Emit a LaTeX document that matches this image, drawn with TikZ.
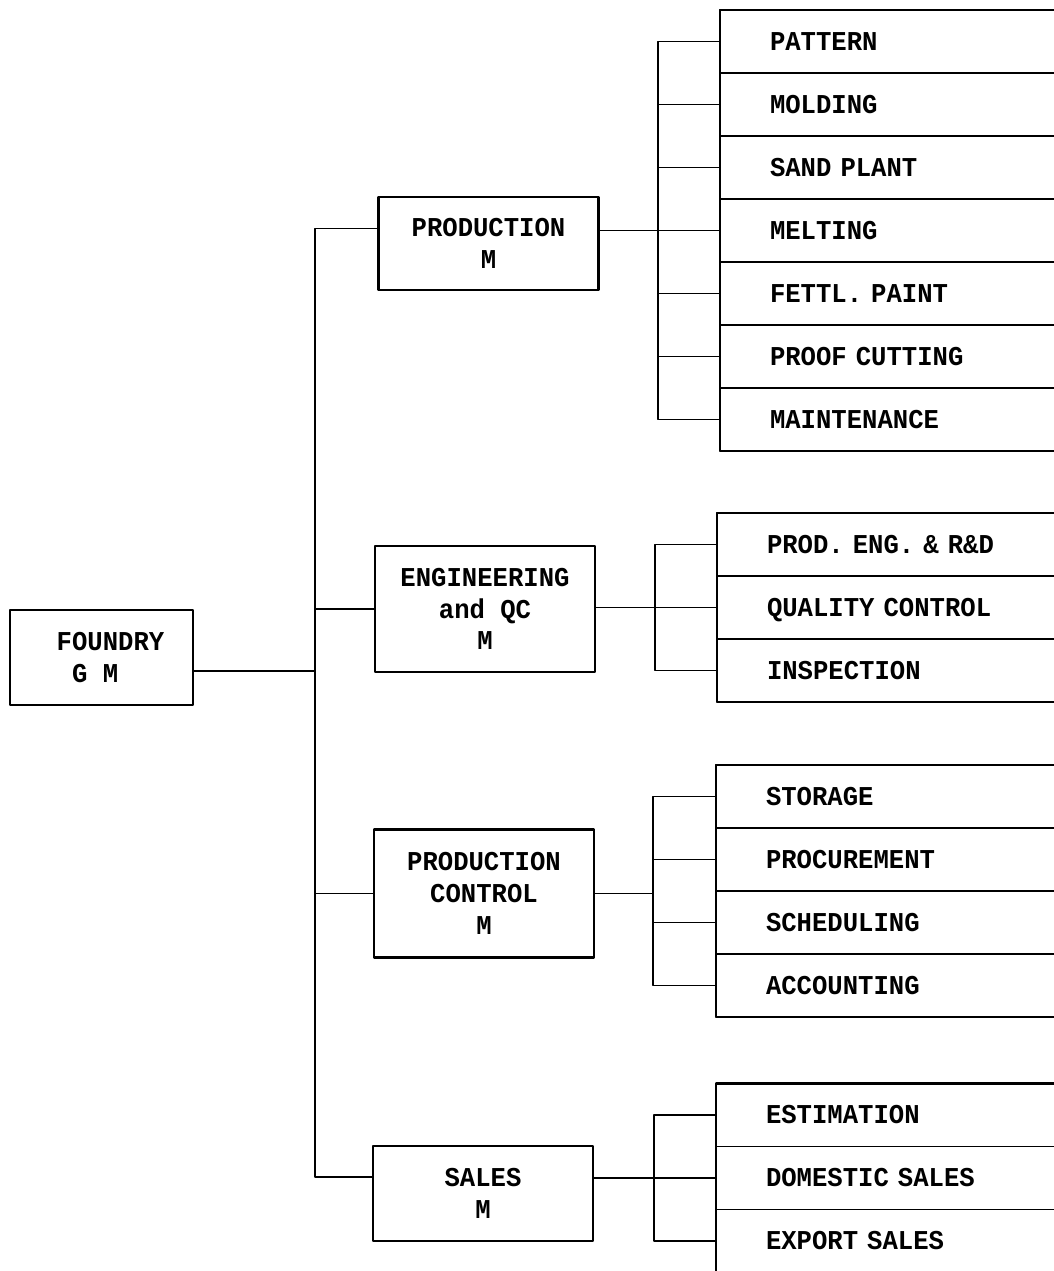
\documentclass[tikz,border=0pt]{standalone}
\usepackage{fontspec}
\newfontfamily\chartfont{Liberation Mono}[FakeStretch=0.94]
\usetikzlibrary{positioning}

% monospaced font with a space as wide as a letter
\newcommand\chartsetup{%
    \chartfont\bfseries\fontsize{15.5pt}{18pt}\selectfont
    \fontdimen2\font=\fontcharwd\font`X
    \fontdimen3\font=0pt
    \fontdimen4\font=0pt
    \fontdimen7\font=0pt
    \frenchspacing}

\begin{document}
\begin{tikzpicture}[line cap=round, line join=round]

% --- Global TikZ Styles for Consistency ---
\tikzset{
    chart/.style={
        font=\chartsetup
    },
    mgrbox/.style={
        chart,
        draw=black,
        line width=1.3pt,
        align=center,
        minimum width=4.4cm,
        inner sep=0pt
    },
    unitrow/.style={
        chart,
        draw=black,
        line width=0.6pt,
        align=left,
        text width=8cm,
        inner xsep=1cm,
        inner ysep=0pt,
        outer sep=0pt,
        minimum height=1.26cm,
        text height=10.2pt,
        text depth=0pt
    },
    unitframe/.style={
        draw=black,
        line width=1.3pt
    },
    link/.style={
        draw=black,
        line width=0.9pt
    }
}

% --- Page frame (right side of the unit boxes is cut off) ---
\useasboundingbox (0,0) rectangle (21.08,-25.42);
\clip (0,0) rectangle (21.08,-25.42);

% =========================================================================
% --- General manager and department managers ---
% =========================================================================
\node[mgrbox, minimum width=3.66cm, minimum height=1.9cm, align=left] (fdy) at (2.03,-13.15)
    {\hspace*{0.36cm}FOUNDRY\\\hspace*{0.36cm}~G M};

\node[mgrbox, minimum height=1.86cm] (prod)  at (9.77,-4.87)  {PRODUCTION\\M};
\node[mgrbox, minimum height=2.52cm] (eng)   at (9.70,-12.18) {ENGINEERING\\and QC\\M};
\node[mgrbox, minimum height=2.56cm] (pctl)  at (9.68,-17.87) {PRODUCTION\\CONTROL\\M};
\node[mgrbox, minimum height=1.9cm]  (sales) at (9.66,-23.87) {SALES\\M};

% --- Trunk ---
\coordinate (trunk) at (6.3,0);
\coordinate (fdyJ) at ([yshift=-0.27cm]fdy.east);
\coordinate (prodJ) at ([yshift=0.3cm]prod.west);
\coordinate (salesJ) at ([yshift=0.33cm]sales.west);

\draw[link] (fdyJ) -- (trunk |- fdyJ);
\draw[link] (prodJ) -- (trunk |- prodJ) -- (trunk |- salesJ) -- (salesJ);
\draw[link] (eng.west) -- (trunk |- eng.west);
\draw[link] (pctl.west) -- (trunk |- pctl.west);

% =========================================================================
% --- Production units ---
% =========================================================================
\node[unitrow, anchor=north west] (p1) at (14.4,-0.2) {PATTERN};
\node[unitrow, below=0pt of p1] (p2) {MOLDING};
\node[unitrow, below=0pt of p2] (p3) {SAND PLANT};
\node[unitrow, below=0pt of p3] (p4) {MELTING};
\node[unitrow, below=0pt of p4] (p5) {FETTL. PAINT};
\node[unitrow, below=0pt of p5] (p6) {PROOF CUTTING};
\node[unitrow, below=0pt of p6] (p7) {MAINTENANCE};
\draw[unitframe] (p1.north west) rectangle (p7.south east);

\coordinate (pbr) at (13.16,0);
\draw[link] (prod.east |- p4.west) -- (p4.west);
\draw[link] (p1.west) -- (pbr |- p1.west) -- (pbr |- p7.west) -- (p7.west);
\foreach \r in {p2,p3,p5,p6}
    \draw[link] (pbr |- \r.west) -- (\r.west);

% =========================================================================
% --- Engineering and QC units ---
% =========================================================================
\node[unitrow, anchor=north west] (e1) at (14.34,-10.26) {PROD. ENG. \& R\&D};
\node[unitrow, below=0pt of e1] (e2) {QUALITY CONTROL};
\node[unitrow, below=0pt of e2] (e3) {INSPECTION};
\draw[unitframe] (e1.north west) rectangle (e3.south east);

\coordinate (ebr) at (13.1,0);
\draw[link] (eng.east |- e2.west) -- (e2.west);
\draw[link] (e1.west) -- (ebr |- e1.west) -- (ebr |- e3.west) -- (e3.west);

% =========================================================================
% --- Production control units ---
% =========================================================================
\node[unitrow, anchor=north west] (c1) at (14.32,-15.3) {STORAGE};
\node[unitrow, below=0pt of c1] (c2) {PROCUREMENT};
\node[unitrow, below=0pt of c2] (c3) {SCHEDULING};
\node[unitrow, below=0pt of c3] (c4) {ACCOUNTING};
\draw[unitframe] (c1.north west) rectangle (c4.south east);

\coordinate (cbr) at (13.06,0);
\draw[link] (pctl.east) -- (cbr |- pctl.east);
\draw[link] (c1.west) -- (cbr |- c1.west) -- (cbr |- c4.west) -- (c4.west);
\foreach \r in {c2,c3}
    \draw[link] (cbr |- \r.west) -- (\r.west);

% =========================================================================
% --- Sales units ---
% =========================================================================
\node[unitrow, anchor=north west] (s1) at (14.32,-21.67) {ESTIMATION};
\node[unitrow, below=0pt of s1] (s2) {DOMESTIC SALES};
\node[unitrow, below=0pt of s2] (s3) {EXPORT SALES};
\draw[unitframe] (s1.north west) rectangle (s3.south east);

\coordinate (sbr) at (13.08,0);
\draw[link] (sales.east |- s2.west) -- (s2.west);
\draw[link] (s1.west) -- (sbr |- s1.west) -- (sbr |- s3.west) -- (s3.west);

\end{tikzpicture}
\end{document}
